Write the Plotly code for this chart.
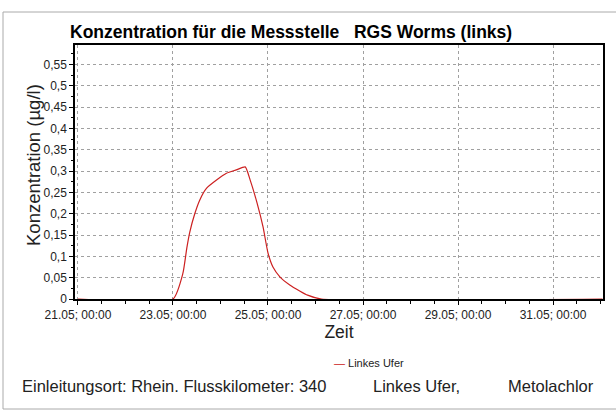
import plotly.graph_objects as go

# Messwerte (Zeitpunkt, Konzentration in µg/l)
zeit = ['2009-05-21 00:00', '2009-05-23 00:00', '2009-05-23 05:00', '2009-05-23 07:00',
        '2009-05-23 08:30', '2009-05-23 11:00', '2009-05-23 13:30', '2009-05-23 17:00',
        '2009-05-23 22:00', '2009-05-24 03:00', '2009-05-24 08:00', '2009-05-24 12:30',
        '2009-05-24 15:00', '2009-05-24 18:30', '2009-05-24 21:30', '2009-05-25 00:00',
        '2009-05-25 02:30', '2009-05-25 06:00', '2009-05-25 11:00', '2009-05-25 16:00',
        '2009-05-25 20:00', '2009-05-26 03:00', '2009-06-01 01:00']
konz = [0, 0, 0.06, 0.12, 0.157, 0.2, 0.232, 0.26,
        0.279, 0.295, 0.303, 0.31,
        0.279, 0.225, 0.169, 0.108,
        0.075, 0.052, 0.033, 0.019,
        0.009, 0, 0]

x_range = ['2009-05-20 22:30', '2009-06-01 01:15']
y_range = [0, 0.596]

W, H = 616, 412
L, R, T, B = 75, 13, 45, 113
pw, ph = W - L - R, H - T - B

def px(x):
    return (x - L) / pw

def py(y):
    return (H - B - y) / ph

fnt = 'Liberation Sans, Arial, sans-serif'
grau = '#222222'

fig = go.Figure()
fig.add_trace(go.Scatter(
    x=zeit, y=konz, mode='lines', name='Linkes Ufer',
    line=dict(color='#cc2020', width=1.2, shape='spline', smoothing=0.5),
    showlegend=False,
))

fig.update_xaxes(
    range=x_range, type='date',
    tick0='2009-05-21', dtick=2 * 86400000,
    tickformat='%d.%m; %H:%M',
    ticks='outside', ticklen=4, tickcolor='black',
    minor=dict(dtick=43200000, ticks='outside', ticklen=3, tickcolor='black', showgrid=False),
    showgrid=True, gridcolor='#a0a0a0', griddash='3px,3px', gridwidth=1,
    showline=True, linecolor='black', linewidth=1.5, mirror=True,
    zeroline=False,
    tickfont=dict(size=12, color=grau, family=fnt),
    title=dict(text='Zeit', font=dict(size=17.5, color=grau, family=fnt), standoff=0),
)
fig.update_yaxes(
    range=y_range, dtick=0.05, tick0=0,
    ticks='outside', ticklen=4, tickcolor='black',
    minor=dict(dtick=0.025, ticks='outside', ticklen=2, tickcolor='black', showgrid=False),
    showgrid=True, gridcolor='#a0a0a0', griddash='3px,3px', gridwidth=1,
    showline=True, linecolor='black', linewidth=1.5, mirror=True,
    zeroline=False,
    tickfont=dict(size=12, color=grau, family=fnt),
    title=None,
)

ann = [
    dict(text='<b>Konzentration für die Messstelle&nbsp;&nbsp; RGS Worms (links)</b>',
         x=px(291), y=py(32), font=dict(size=17.5, color='black', family=fnt)),
    dict(text='Konzentration (µg/l)', x=px(33), y=py(165), textangle=-90,
         font=dict(size=18.5, color=grau, family=fnt)),
    dict(text='<span style="color:#cc2020">—</span> Linkes Ufer', x=px(332), y=py(363),
         xanchor='left', font=dict(size=11, color=grau, family=fnt)),
    dict(text='Einleitungsort: Rhein. Flusskilometer: 340', x=px(174), y=py(386),
         font=dict(size=16.5, color=grau, family=fnt)),
    dict(text='Linkes Ufer,', x=px(416), y=py(386),
         font=dict(size=16.5, color=grau, family=fnt)),
    dict(text='Metolachlor', x=px(551), y=py(386),
         font=dict(size=16.5, color=grau, family=fnt)),
]
for a in ann:
    a.setdefault('xanchor', 'center')
    a.update(xref='paper', yref='paper', showarrow=False, yanchor='middle')

fig.update_layout(
    width=W, height=H,
    margin=dict(l=L, r=R, t=T, b=B),
    paper_bgcolor='white', plot_bgcolor='white',
    separators=',.',
    font=dict(family=fnt),
    annotations=ann,
    showlegend=False,
    shapes=[dict(type='rect', xref='paper', yref='paper',
                 x0=px(3), x1=px(620), y0=py(409), y1=py(12),
                 line=dict(color='#aaaaaa', width=1), layer='below')],
)

fig.write_html('out.html', config={'displayModeBar': False},
               post_script="document.body.style.margin='0';")
